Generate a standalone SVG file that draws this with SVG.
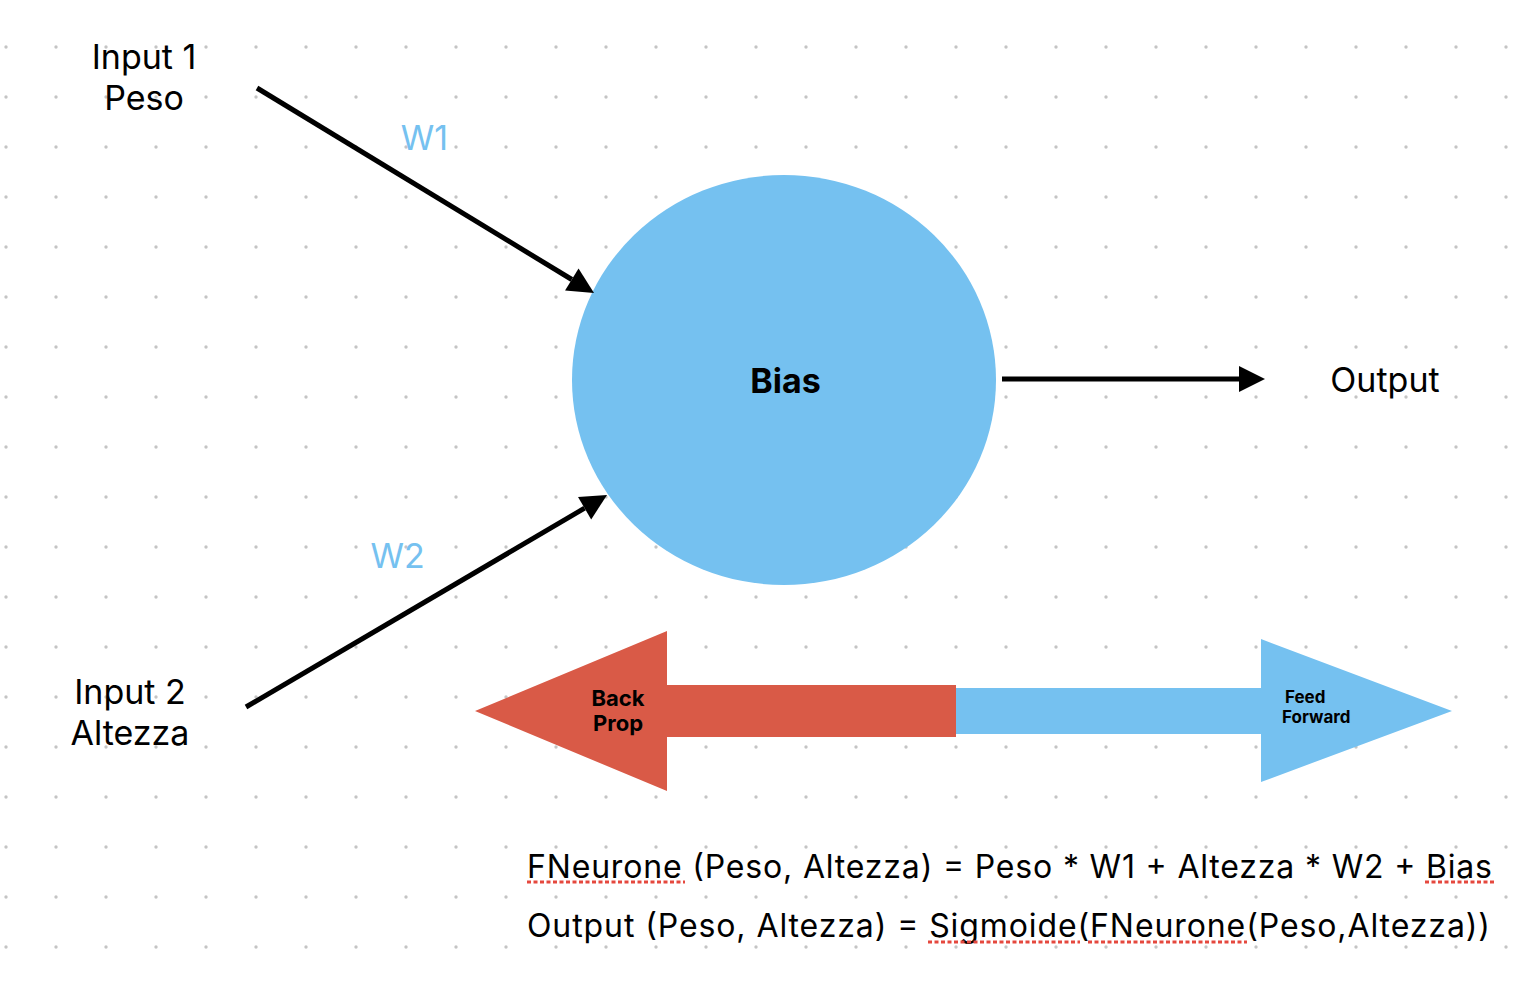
<svg xmlns="http://www.w3.org/2000/svg" width="1540" height="990" viewBox="0 0 1540 990">
  <style>
    .lbl { font-family: Inter, "Liberation Sans", sans-serif; font-size: 34px; fill: #000; }
    .w { font-family: Inter, "Liberation Sans", sans-serif; font-size: 34px; fill: #75C1F0; }
    .bold { font-family: Inter, "Liberation Sans", sans-serif; font-weight: bold; fill: #000; }
    .eq { font-family: Inter, "Liberation Sans", sans-serif; font-size: 32px; fill: #000; }
    .conn { stroke: #000; stroke-width: 5; fill: none; }
    .squig { stroke: #E5483E; stroke-width: 3; stroke-dasharray: 4 2.5; fill: none; }
  </style>
  <defs>
    <pattern id="dots" x="-19" y="22" width="50" height="50" patternUnits="userSpaceOnUse">
      <circle cx="25" cy="25" r="1.7" fill="#C4C4C4"/>
    </pattern>
    <marker id="ah" viewBox="0 -15 30 30" refX="0" refY="0" markerWidth="30" markerHeight="30" markerUnits="userSpaceOnUse" orient="auto" overflow="visible">
      <path d="M0,-13 L26,0 L0,13 Z" fill="#000"/>
    </marker>
  </defs>
  <rect width="1540" height="990" fill="#FFFFFF"/>
  <rect width="1540" height="990" fill="url(#dots)"/>

  <g id="neuron">
    <ellipse cx="784" cy="380" rx="212" ry="205" fill="#75C1F0"/>
    <text class="bold" x="785.5" y="393" font-size="34" text-anchor="middle">Bias</text>
  </g>

  <g id="input1">
    <text class="lbl" x="144" y="69" text-anchor="middle">Input 1</text>
    <text class="lbl" x="144" y="110" text-anchor="middle">Peso</text>
  </g>

  <g id="input2">
    <text class="lbl" x="130" y="704" text-anchor="middle">Input 2</text>
    <text class="lbl" x="130" y="745" text-anchor="middle">Altezza</text>
  </g>

  <g id="output">
    <text class="lbl" x="1385" y="392" text-anchor="middle">Output</text>
  </g>

  <g id="connectors">
    <line class="conn" x1="257" y1="88" x2="571.8" y2="279.5" marker-end="url(#ah)"/>
    <line class="conn" x1="246" y1="707" x2="584.6" y2="508.2" marker-end="url(#ah)"/>
    <line class="conn" x1="1002" y1="379" x2="1239" y2="379" marker-end="url(#ah)"/>
    <text class="w" x="424.5" y="150" text-anchor="middle">W1</text>
    <text class="w" x="397.5" y="568" text-anchor="middle">W2</text>
  </g>

  <g id="feedforward">
    <polygon points="956,688 1261,688 1261,639 1452,711 1261,782 1261,734 956,734" fill="#75C1F0"/>
    <text class="bold" x="1285" y="703" font-size="17">Feed</text>
    <text class="bold" x="1282" y="723" font-size="17">Forward</text>
  </g>

  <g id="backprop">
    <polygon points="956,685 667,685 667,631 475,711 667,791 667,737 956,737" fill="#D95A47"/>
    <text class="bold" x="618" y="706" font-size="22" text-anchor="middle">Back</text>
    <text class="bold" x="618" y="731" font-size="22" text-anchor="middle">Prop</text>
  </g>

  <g id="formula">
    <text class="eq" x="527" y="878" textLength="965" lengthAdjust="spacing">FNeurone (Peso, Altezza) = Peso * W1 + Altezza * W2 + Bias</text>
    <text class="eq" x="527" y="937" textLength="963" lengthAdjust="spacing">Output (Peso, Altezza) = Sigmoide(FNeurone(Peso,Altezza))</text>
    <line class="squig" x1="527" y1="882" x2="685" y2="882"/>
    <line class="squig" x1="1425" y1="882" x2="1494" y2="882"/>
    <line class="squig" x1="928" y1="942" x2="1080" y2="942"/>
    <line class="squig" x1="1088" y1="942" x2="1247" y2="942"/>
  </g>
</svg>
